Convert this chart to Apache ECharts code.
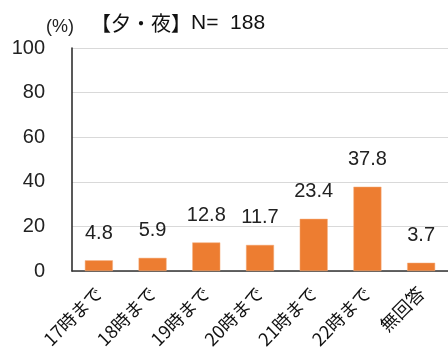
<!DOCTYPE html>
<html>
<head>
<meta charset="utf-8">
<script src="https://cdn.jsdelivr.net/npm/echarts@6/dist/echarts.min.js"></script>
<style>
  html, body { margin: 0; padding: 0; background: #fff; }
  #chart { width: 448px; height: 354px; }
</style>
</head>
<body>
<div id="chart"></div>
<script>
// Time slots and share of respondents (%)
const categories = ['17時まで', '18時まで', '19時まで', '20時まで', '21時まで', '22時まで', '無回答'];
const values = [4.8, 5.9, 12.8, 11.7, 23.4, 37.8, 3.7];
const yTicks = [0, 20, 40, 60, 80, 100];

const cjkFont = '"Noto Sans CJK JP", sans-serif';
const numFont = '"Liberation Sans", Arial, sans-serif';

const chart = echarts.init(document.getElementById('chart'), null, { renderer: 'canvas' });
chart.setOption({
  animation: false,
  backgroundColor: '#ffffff',
  title: {
    text: '{c|【夕・夜】}{n|N=  188}',
    left: 86, top: 8,
    textStyle: {
      fontWeight: 'normal',
      rich: {
        c: { fontFamily: cjkFont, fontSize: 20, fontWeight: 'normal', color: '#111' },
        n: { fontFamily: numFont, fontSize: 21, fontWeight: 'normal', color: '#111' }
      }
    }
  },
  graphic: [{
    type: 'text', left: 46, top: 18,
    style: { text: '(%)', font: '18px ' + numFont, fill: '#222' }
  }],
  grid: { left: 72, right: -11, top: 48, bottom: 83 },
  xAxis: {
    type: 'category',
    data: categories,
    axisLine: { lineStyle: { color: '#333', width: 1.5 } },
    axisTick: { show: false },
    axisLabel: {
      rotate: 45, interval: 0, margin: 19,
      fontFamily: cjkFont, fontSize: 18, color: '#111'
    }
  },
  yAxis: {
    type: 'value',
    min: yTicks[0], max: yTicks[yTicks.length - 1], interval: 20,
    axisLine: { show: true, lineStyle: { color: '#222', width: 1.5 } },
    axisTick: { show: false },
    axisLabel: { fontFamily: numFont, fontSize: 20, color: '#222', margin: 27 },
    splitLine: { lineStyle: { color: '#d9d9d9', width: 1 } }
  },
  series: [{
    type: 'bar',
    data: values,
    barWidth: 28,
    itemStyle: { color: '#ED7D31', borderColor: '#F4B183', borderWidth: 0.5 },
    label: {
      show: true, position: 'top', distance: 17,
      fontFamily: numFont, fontSize: 20, color: '#222',
      formatter: p => p.value.toFixed(1)
    }
  }]
});
</script>
</body>
</html>
